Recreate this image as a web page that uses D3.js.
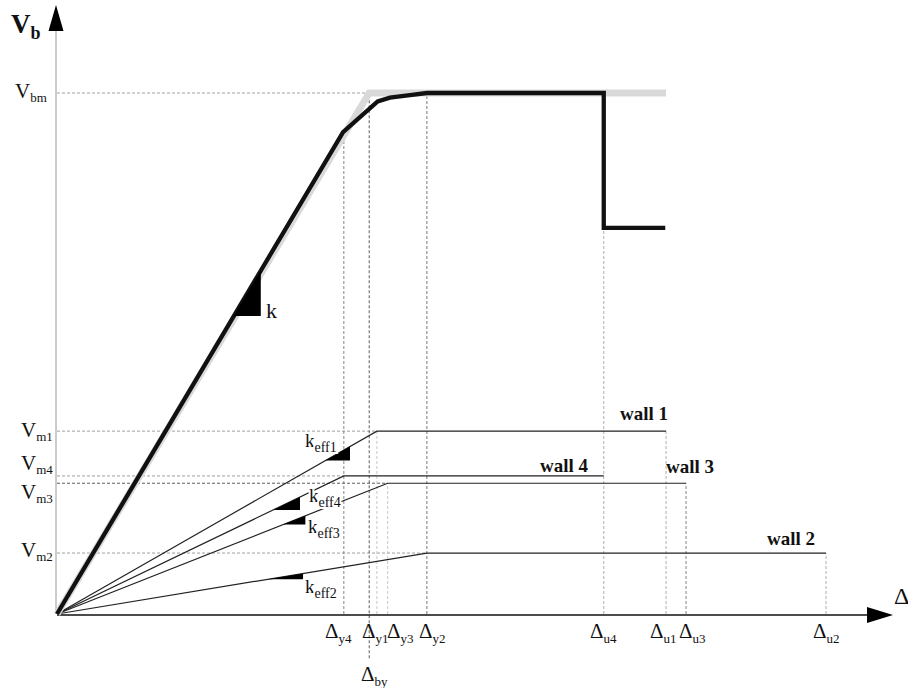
<!DOCTYPE html>
<html><head><meta charset="utf-8">
<script src="https://cdn.jsdelivr.net/npm/d3@7"></script>
<style>body{margin:0;background:#fff}svg{display:block}text{font-family:"Liberation Serif","Times New Roman",serif}</style>
</head><body><svg id="c" width="908" height="688"></svg>
<script>
// ---- data (displacement units: Δu2 = 100; force units: Vbm = 100) ----
const mainCurve = [[0,0],[37.2,92.5],[41.7,98.4],[43.3,99.1],[45.9,99.6],[48.1,100],[71.1,100],[71.1,74.1],[79.1,74.1]];
const idealCurve = [[0,0],[40.6,100],[79.2,100]];
const walls = ["wall 1","wall 4","wall 3","wall 2"];
const wallYield = [41.6, 37.3, 43.0, 48.1];
const wallStrength = [35.1, 26.5, 25.1, 11.7];
const wallUltimate = [79.2, 71.1, 81.8, 100];
const forceLevels = ["bm","m1","m4","m3","m2"];
const forceValues = [100, 35.1, 26.5, 25.1, 11.7];
const dispLabels = ["y4","y1","y3","y2","u4","u1","u3","u2"];
const keffLabels = ["eff1","eff4","eff3","eff2"];
const deltaBy = 40.6;

const svg = d3.select("#c");
const x = d3.scaleLinear().domain([0,100]).range([57,826]);
const y = d3.scaleLinear().domain([0,100]).range([614,93]);

// guide lines
const dash = "3,2";
const hEnd = [40.6, 41.6, 37.3, 43.0, 48.1];
forceValues.forEach((v,i)=>{
  svg.append("line").attr("x1",x(0)).attr("x2",x(hEnd[i])).attr("y1",y(v)).attr("y2",y(v))
    .attr("stroke", i===3 ? "#333" : "#888").attr("stroke-width",0.8).attr("stroke-dasharray",dash);
});
const vGuides = [
  {d:37.3, top:92.7, c:"#666"},
  {d:deltaBy, top:100, bottom:-8.5, c:"#333"},
  {d:41.6, top:35.1, c:"#bbb"},
  {d:43.0, top:25.1, c:"#bbb"},
  {d:48.1, top:100, c:"#555"},
  {d:71.1, top:74.1, c:"#999"},
  {d:79.2, top:35.1, c:"#999"},
  {d:81.8, top:25.1, c:"#666"},
  {d:100, top:11.7, c:"#999"}
];
vGuides.forEach(g=>{
  svg.append("line").attr("x1",x(g.d)).attr("x2",x(g.d)).attr("y1",y(g.bottom||0)).attr("y2",y(g.top))
    .attr("stroke",g.c).attr("stroke-width",0.8).attr("stroke-dasharray",dash);
});

// axes
svg.append("line").attr("x1",x(0)-1).attr("x2",x(0)-1).attr("y1",y(0)).attr("y2",28).attr("stroke","#999").attr("stroke-width",1);
svg.append("path").attr("d",`M${x(0)-1},5 L${x(0)-8.5},31 L${x(0)+6.5},31 Z`).attr("fill","#000");
svg.append("line").attr("x1",x(0)).attr("x2",870).attr("y1",y(0)+1).attr("y2",y(0)+1).attr("stroke","#111").attr("stroke-width",1.3);
svg.append("path").attr("d",`M893,${y(0)+1} L867,${y(0)-7} L867,${y(0)+9} Z`).attr("fill","#000");

const line = d3.line().x(d=>x(d[0])).y(d=>y(d[1]));

// walls
walls.forEach((w,i)=>{
  svg.append("path").attr("d",line([[0,0],[wallYield[i],wallStrength[i]],[wallUltimate[i],wallStrength[i]]]))
    .attr("fill","none").attr("stroke","#222").attr("stroke-width",1.2);
});

// idealised + main curves
svg.append("path").attr("d",line(idealCurve)).attr("fill","none").attr("stroke","#d9d9d9").attr("stroke-width",7);
svg.append("path").attr("d",line(mainCurve)).attr("fill","none").attr("stroke","#111").attr("stroke-width",4.3).attr("stroke-linejoin","miter");

// stiffness triangles
function tri(p1, dx){
  const s = p1[1]/p1[0];
  const xr = dx[1], xl = dx[0];
  const yb = s*xl;
  return `M${x(xl)},${y(yb)} L${x(xr)},${y(yb)} L${x(xr)},${y(s*xr)} Z`;
}
svg.append("path").attr("d",tri(mainCurve[1],[23.0,26.5])).attr("fill","#000");
const keffRange = [[34.9,38.1],[28.1,31.6],[29.4,32.3],[27.4,32.0]];
walls.forEach((w,i)=>{
  svg.append("path").attr("d",tri([wallYield[i],wallStrength[i]],keffRange[i])).attr("fill","#000");
});

// text helper
function sub(xp, yp, main, subt, fs, sfs, dy, weight, halo){
  const t = svg.append("text").attr("x",xp).attr("y",yp).attr("font-size",fs).attr("font-weight",weight||"normal").attr("fill","#111");
  if(halo) t.attr("stroke","#fff").attr("stroke-width",4).attr("paint-order","stroke");
  t.append("tspan").text(main);
  t.append("tspan").attr("font-size",sfs).attr("dy",dy).text(subt);
  return t;
}
// Vb
sub(11, 33, "V", "b", 27, 18, 6, "bold");
// force labels
const fLabY = [98, 437, 470, 499, 557];
const fLabX = [15, 21, 21, 21, 21];
forceLevels.forEach((f,i)=>sub(fLabX[i], fLabY[i], "V", f, 21, 13, 4));
// displacement labels
const dLabX = [325, 362, 387, 419, 590, 650, 679, 813];
dispLabels.forEach((d,i)=>sub(dLabX[i], 638, "Δ", d, 21, 13, 5));
sub(361, 681, "Δ", "by", 21, 13, 5);
svg.append("text").attr("x",894).attr("y",604).attr("font-size",24).attr("fill","#111").text("Δ");
// k
svg.append("text").attr("x",266).attr("y",318).attr("font-size",22).attr("fill","#111").text("k");
const kX = [305, 309, 308, 305];
const kY = [447, 502, 533, 593];
keffLabels.forEach((k,i)=>sub(kX[i], kY[i], "k", k, 19, 14, 5, "normal", true));
// wall labels
const wX = [620, 540, 666, 767];
const wY = [420, 472, 473, 545];
walls.forEach((w,i)=>svg.append("text").attr("x",wX[i]).attr("y",wY[i]).attr("font-size",19).attr("font-weight","bold").attr("fill","#111").text(w));
</script></body></html>
